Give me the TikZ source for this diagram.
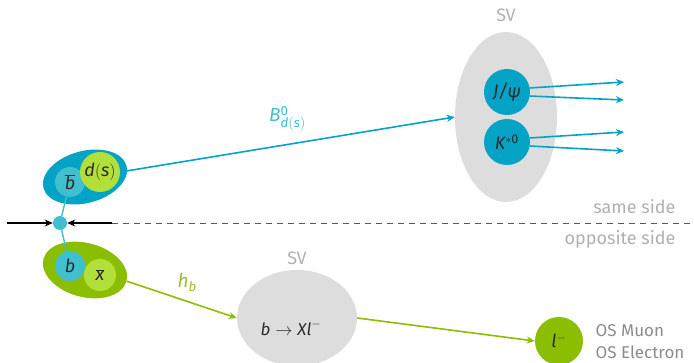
\documentclass[tikz,border=0pt]{standalone}
\usepackage{fontspec}
\setmainfont{Fira Sans}
\usetikzlibrary{arrows.meta,shapes.geometric}

\definecolor{sigblue}{HTML}{03A3C6}
\definecolor{lightcyan}{HTML}{3FBFCF}
\definecolor{lime}{HTML}{B2DF3A}
\definecolor{tagreen}{HTML}{8CBE00}
\definecolor{svgray}{HTML}{DDDDDD}
\definecolor{txtgray}{HTML}{B0B0B0}
\definecolor{ink}{HTML}{2B2B2B}

\begin{document}
\begin{tikzpicture}[x=1pt, y=-1pt,
  blob/.style={ellipse, inner sep=0pt},
  quark/.style={circle, inner sep=0pt, text=ink, font=\fontsize{18}{21}\selectfont\itshape},
  vert/.style={ellipse, fill=svgray, inner sep=0pt},
  lbl/.style={text=txtgray, font=\fontsize{18}{21}\selectfont},
  arr/.style={-{Stealth[length=8pt, width=7pt, inset=2.5pt]}, line width=1.6pt}
]
\useasboundingbox (0,0) rectangle (694,363);

% same side / opposite side split
\draw[gray!70!black, dash pattern=on 6pt off 5pt, line width=0.9pt] (112,223) -- (694,223);
\node[lbl, anchor=east] (ss) at (679,207) {same side};
\node[lbl, anchor=east] (os) at (679,239) {opposite side};

% signal B
\node[blob, fill=sigblue, minimum width=86, minimum height=52, rotate=15] (bsig) at (85,177) {};
\node[quark, fill=lightcyan, minimum size=30] (bbar) at (70,182) {$\overline{\mathit{b}}$};
\node[quark, fill=lime, minimum size=40] (dsq) at (100,172) {$\mathit{d(s)}$};

% tagging B
\node[blob, fill=tagreen, minimum width=86, minimum height=54, rotate=-15] (btag) at (85,270) {};
\node[quark, fill=lightcyan, minimum size=30] (bq) at (70,266) {$\mathit{b}$};
\node[quark, fill=lime, minimum size=32] (xbar) at (100,275) {$\overline{\mathit{x}}$};

% production vertex
\node[circle, fill=lightcyan, minimum size=14, inner sep=0pt] (pv) at (60,223) {};
\draw[lightcyan, line width=1.4pt] (pv) -- (bbar);
\draw[lightcyan, line width=1.4pt] (pv) -- (bq);
\coordinate (inl) at (7,223);
\coordinate (inr) at (112,223);
\draw[arr, black] (inl) -- (pv);
\draw[arr, black] (inr) -- (pv);

% signal side SV
\node[vert, minimum width=102, minimum height=170] (svsig) at (506,117) {};
\node[lbl] (svsiglbl) at (506,15) {SV};
\node[quark, fill=sigblue, minimum size=46] (jpsi) at (507,92) {\textit{J/ψ}};
\node[quark, fill=sigblue, minimum size=46] (kst) at (507,142) {$\mathit{K}^{\mathrm{*0}}$};
\draw[arr, sigblue] (dsq.east) -- (svsig.west)
  node[pos=0.5, above=9pt, text=lightcyan, font=\fontsize{19}{22}\selectfont] (blbl) {$\mathit{B}^{\mathrm{0}}_{\mathit{d(s)}}$};
\coordinate (o1) at (624,82);
\coordinate (o2) at (624,100);
\coordinate (o3) at (624,132);
\coordinate (o4) at (624,151);
\draw[arr, sigblue] (jpsi.10) -- (o1);
\draw[arr, sigblue] (jpsi.-10) -- (o2);
\draw[arr, sigblue] (kst.10) -- (o3);
\draw[arr, sigblue] (kst.-10) -- (o4);

% opposite side SV
\node[vert, minimum width=120, minimum height=96] (svtag) at (297,318) {};
\node[lbl] (svtaglbl) at (297,258) {SV};
\node[text=ink, font=\fontsize{17}{20}\selectfont] (dec) at (291,328) {$\mathit{b}\rightarrow\mathit{Xl}^{-}$};
\draw[arr, tagreen] (btag.east) -- (svtag.west)
  node[pos=0.55, above=6pt, text=lime!85!black, font=\fontsize{19}{22}\selectfont] (hlbl) {$\mathit{h}_{\mathit{b}}$};
\node[quark, fill=tagreen, minimum size=48] (lep) at (559,341) {$\mathit{l}^{-}$};
\draw[arr, tagreen] (svtag.east) -- (lep.west);
\node[lbl, anchor=west, align=left, text=gray!90, font=\fontsize{17}{22}\selectfont] (tags) at (592,342) {OS Muon\\OS Electron};
\end{tikzpicture}
\end{document}
